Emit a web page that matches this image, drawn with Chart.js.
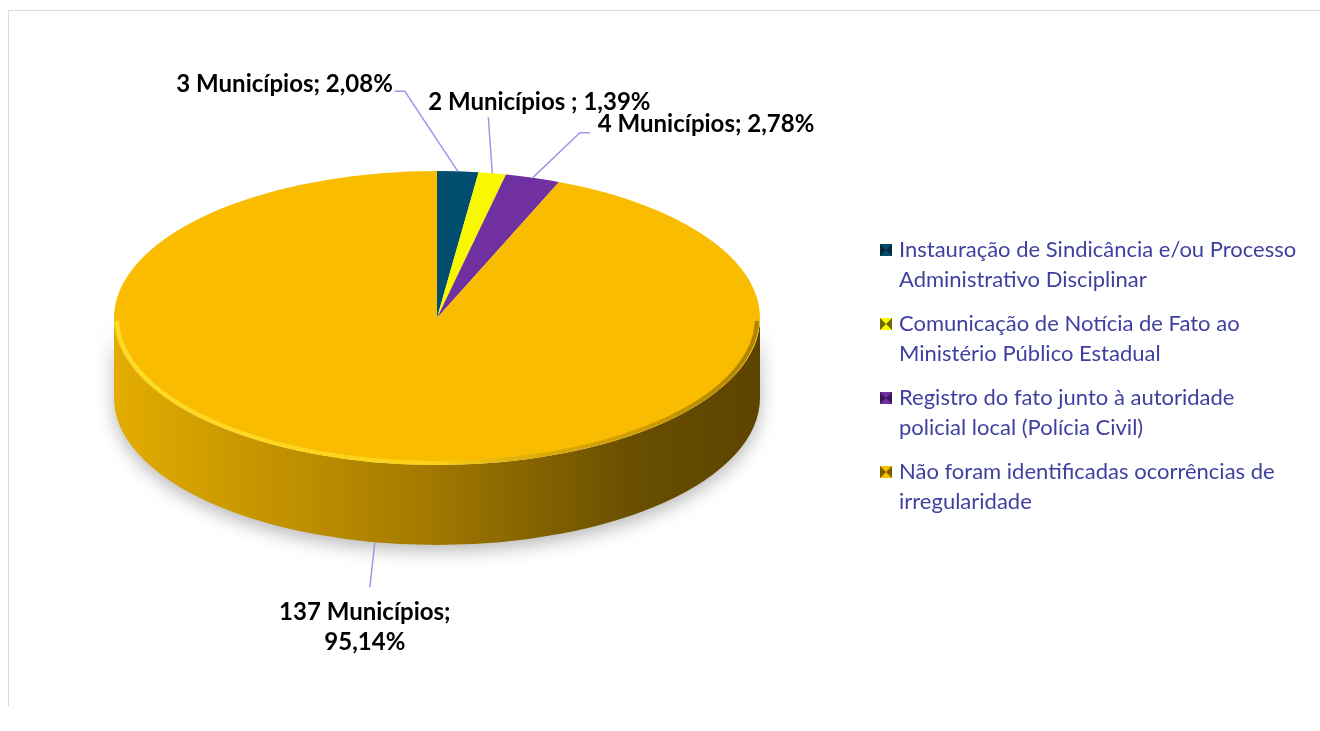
<!DOCTYPE html>
<html>
<head>
<meta charset="utf-8">
<script src="https://cdn.jsdelivr.net/npm/chart.js@4.4.1/dist/chart.umd.min.js"></script>
<style>
  body { margin: 0; background: #fff; width: 1320px; height: 731px; overflow: hidden; position: relative; }
  #frame { position: absolute; left: 8px; top: 10px; width: 1330px; height: 695px;
           border-left: 1px solid #d9d9e4; border-top: 1px solid #d9d9e4; }
  #chart { position: absolute; left: 0; top: 0; }
</style>
</head>
<body>
<div id="frame"></div>
<canvas id="chart" width="1320" height="731"></canvas>
<script>
// categorias (legenda), em duas linhas como no original
const categories = [
  ['Instauração de Sindicância e/ou Processo', 'Administrativo Disciplinar'],
  ['Comunicação de Notícia de Fato ao', 'Ministério Público Estadual'],
  ['Registro do fato junto à autoridade', 'policial local (Polícia Civil)'],
  ['Não foram identificadas ocorrências de', 'irregularidade'],
];
const municipios = [3, 2, 4, 137];
const sliceLabels = [
  ['3 Municípios; 2,08%'],
  ['2 Municípios ; 1,39%'],
  ['4 Municípios; 2,78%'],
  ['137 Municípios;', '95,14%'],
];

const sliceColors = ['#014e70', '#f8f800', '#7030a0', '#f9bc00'];
const legendDark = ['#0b2a3a', '#6b6b00', '#3a1656', '#7a5c00'];

// geometria do "3D"
const TOP_Y = 318;     // centro da face superior
const SQUASH = 0.455;  // ry / rx
const DEPTH = 80;      // altura da lateral

// posição dos rótulos relativa ao ponto de ancoragem da fatia
const labelLayout = [
  { path: [[-53, -80], [-63, -80]], align: 'right', text: [-65, -87] },
  { path: [[-4, -56]], align: 'center', text: [47, -71] },
  { path: [[47, -45], [57, -45]], align: 'left', text: [65, -53] },
  { path: [[-5, 45]], align: 'center', text: [-10, 70] },
];

const ellipseInfo = (chart) => {
  const arc = chart.getDatasetMeta(0).data[0];
  const rx = arc.outerRadius;
  return { cx: arc.x, cy: arc.y, rx, ry: rx * SQUASH };
};

const pie3d = {
  id: 'pie3d',
  beforeDatasetsDraw(chart) {
    const { ctx } = chart;
    const { cx, cy, rx, ry } = ellipseInfo(chart);
    const arcs = chart.getDatasetMeta(0).data;

    // lateral (somente a parte frontal visível)
    ctx.save();
    arcs.forEach((arc, i) => {
      const ranges = [];
      for (const off of [0, Math.PI * 2, -Math.PI * 2]) {
        const a0 = Math.max(arc.startAngle, off);
        const a1 = Math.min(arc.endAngle, off + Math.PI);
        if (a1 > a0) ranges.push([a0, a1]);
      }
      ranges.forEach(([a0, a1]) => {
        const grad = ctx.createLinearGradient(cx - rx, 0, cx + rx, 0);
        if (i === 3) {
          grad.addColorStop(0, '#e3ac00');
          grad.addColorStop(0.45, '#a87e00');
          grad.addColorStop(0.8, '#6a4f00');
          grad.addColorStop(1, '#5c4400');
        } else {
          grad.addColorStop(0, sliceColors[i]);
          grad.addColorStop(1, legendDark[i]);
        }
        ctx.beginPath();
        ctx.ellipse(cx, TOP_Y, rx, ry, 0, a0, a1);
        ctx.ellipse(cx, TOP_Y + DEPTH, rx, ry, 0, a1, a0, true);
        ctx.closePath();
        ctx.shadowColor = 'rgba(0,0,0,0.28)';
        ctx.shadowBlur = 18;
        ctx.shadowOffsetY = 6;
        ctx.fillStyle = grad;
        ctx.fill();
      });
    });
    ctx.restore();

    // face superior: achata o desenho das fatias
    ctx.save();
    ctx.translate(cx, TOP_Y);
    ctx.scale(1, SQUASH);
    ctx.translate(-cx, -cy);
  },
  afterDatasetsDraw(chart) {
    const { ctx } = chart;
    ctx.restore();
    const { cx, rx, ry } = ellipseInfo(chart);

    // brilho na borda frontal
    ctx.save();
    const g = ctx.createLinearGradient(cx - rx, 0, cx + rx, 0);
    g.addColorStop(0, 'rgba(255,222,40,0.95)');
    g.addColorStop(0.5, 'rgba(255,222,40,0.6)');
    g.addColorStop(0.8, 'rgba(120,90,0,0.3)');
    g.addColorStop(1, 'rgba(120,90,0,0.6)');
    ctx.strokeStyle = g;
    ctx.lineWidth = 4;
    ctx.beginPath();
    ctx.ellipse(cx, TOP_Y, rx - 3, ry - 2, 0, 0.02, Math.PI - 0.02);
    ctx.stroke();
    ctx.restore();
  },
  afterDraw(chart) {
    const { ctx } = chart;
    const { cx, rx, ry } = ellipseInfo(chart);
    const arcs = chart.getDatasetMeta(0).data;

    // rótulos de dados com linhas de chamada
    ctx.save();
    ctx.font = 'bold 24px Lato';
    ctx.textBaseline = 'middle';
    arcs.forEach((arc, i) => {
      const mid = (arc.startAngle + arc.endAngle) / 2;
      let ax = cx + rx * Math.cos(mid);
      let ay = TOP_Y + ry * Math.sin(mid);
      if (Math.sin(mid) > 0) ay += DEPTH;
      const lay = labelLayout[i];
      ctx.strokeStyle = '#9a9ae8';
      ctx.lineWidth = 1.5;
      ctx.beginPath();
      ctx.moveTo(ax, ay);
      lay.path.forEach(([dx, dy]) => ctx.lineTo(ax + dx, ay + dy));
      ctx.stroke();
      ctx.fillStyle = '#000';
      ctx.textAlign = lay.align;
      sliceLabels[i].forEach((line, j) => {
        ctx.fillText(line, ax + lay.text[0], ay + lay.text[1] + j * 30);
      });
    });
    ctx.restore();

    // legenda
    ctx.save();
    ctx.font = '22px Lato';
    ctx.textBaseline = 'middle';
    ctx.textAlign = 'left';
    categories.forEach((lines, i) => {
      const y = 250 + i * 74;
      const x = 880, s = 12;
      // ícone tipo "pirâmide"
      ctx.fillStyle = sliceColors[i];
      ctx.fillRect(x, y - s / 2, s, s);
      ctx.fillStyle = legendDark[i];
      ctx.beginPath();
      ctx.moveTo(x, y - s / 2); ctx.lineTo(x + s / 2, y); ctx.lineTo(x, y + s / 2); ctx.closePath();
      ctx.moveTo(x + s, y - s / 2); ctx.lineTo(x + s / 2, y); ctx.lineTo(x + s, y + s / 2); ctx.closePath();
      ctx.fill();
      ctx.fillStyle = '#3f3fa0';
      lines.forEach((line, j) => ctx.fillText(line, 899, y + j * 30));
    });
    ctx.restore();
  },
};

new Chart(document.getElementById('chart'), {
  type: 'pie',
  plugins: [pie3d],
  data: {
    labels: categories,
    datasets: [
      {
        data: municipios,
        backgroundColor: sliceColors,
        borderWidth: 0,
      },
    ],
  },
  options: {
    responsive: false,
    animation: false,
    events: [],
    layout: {
      padding: { left: 114, right: 560, top: 42, bottom: 43 },
    },
    plugins: {
      legend: { display: false },
      tooltip: { enabled: false },
    },
  },
});
</script>
</body>
</html>
